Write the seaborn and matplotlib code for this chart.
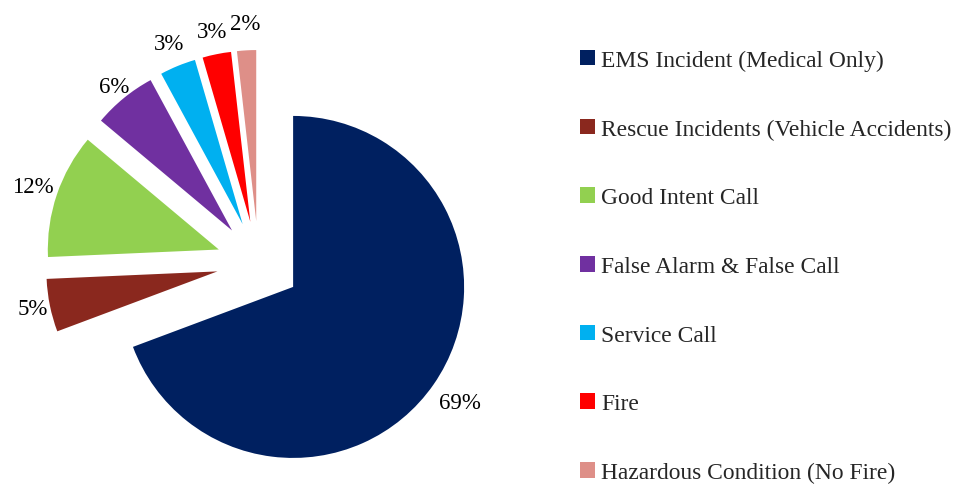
import matplotlib
matplotlib.use("Agg")
import matplotlib.pyplot as plt
import numpy as np
import seaborn as sns

# Incident categories and their share of all calls (percent)
categories = [
    "EMS Incident (Medical Only)",
    "Rescue Incidents (Vehicle Accidents)",
    "Good Intent Call",
    "False Alarm & False Call",
    "Service Call",
    "Fire",
    "Hazardous Condition (No Fire)",
]
shares = [69.3, 5.0, 11.8, 6.0, 3.4, 2.7, 1.8]
colors = ["#002060", "#8A281E", "#92D050", "#7030A0", "#00B0F0", "#FF0000", "#DE8F88"]

sns.set_style("white")
plt.rcParams["font.family"] = ["Liberation Serif", "DejaVu Serif"]

W, H = 959, 485
fig = plt.figure(figsize=(W / 100, H / 100), dpi=100)
ax = fig.add_axes([0, 0, 1, 1])

radius = 171
wedges, texts, autotexts = ax.pie(
    shares,
    colors=colors,
    startangle=90,
    counterclock=False,
    radius=radius,
    center=(258.6, H - 264),
    explode=[42] * len(shares),
    autopct="%.0f%%",
    pctdistance=1.14,
    textprops=dict(fontsize=16.5, color="black"),
    wedgeprops=dict(linewidth=0),
)

# per-slice distance of the percentage labels (in radii, from each slice's tip)
label_dist = [1.19, 1.10, 1.15, 1.09, 1.14, 1.135, 1.16]
for w, t, d in zip(wedges, autotexts, label_dist):
    mid = np.deg2rad((w.theta1 + w.theta2) / 2)
    cx, cy = w.center
    t.set_position((cx + d * radius * np.cos(mid), cy + d * radius * np.sin(mid)))

ax.set_xlim(0, W)
ax.set_ylim(0, H)
ax.set_aspect("equal")
ax.axis("off")

fs = 16.9
fig.legend(
    wedges,
    categories,
    loc="center left",
    bbox_to_anchor=(580 / W, 1 - 267.5 / H),
    frameon=False,
    fontsize=fs,
    handlelength=0.64,
    handleheight=0.64,
    handletextpad=0.26,
    labelspacing=2.03,
    borderpad=0,
    borderaxespad=0,
)

fig.savefig("out.png", dpi=100, facecolor="white")
